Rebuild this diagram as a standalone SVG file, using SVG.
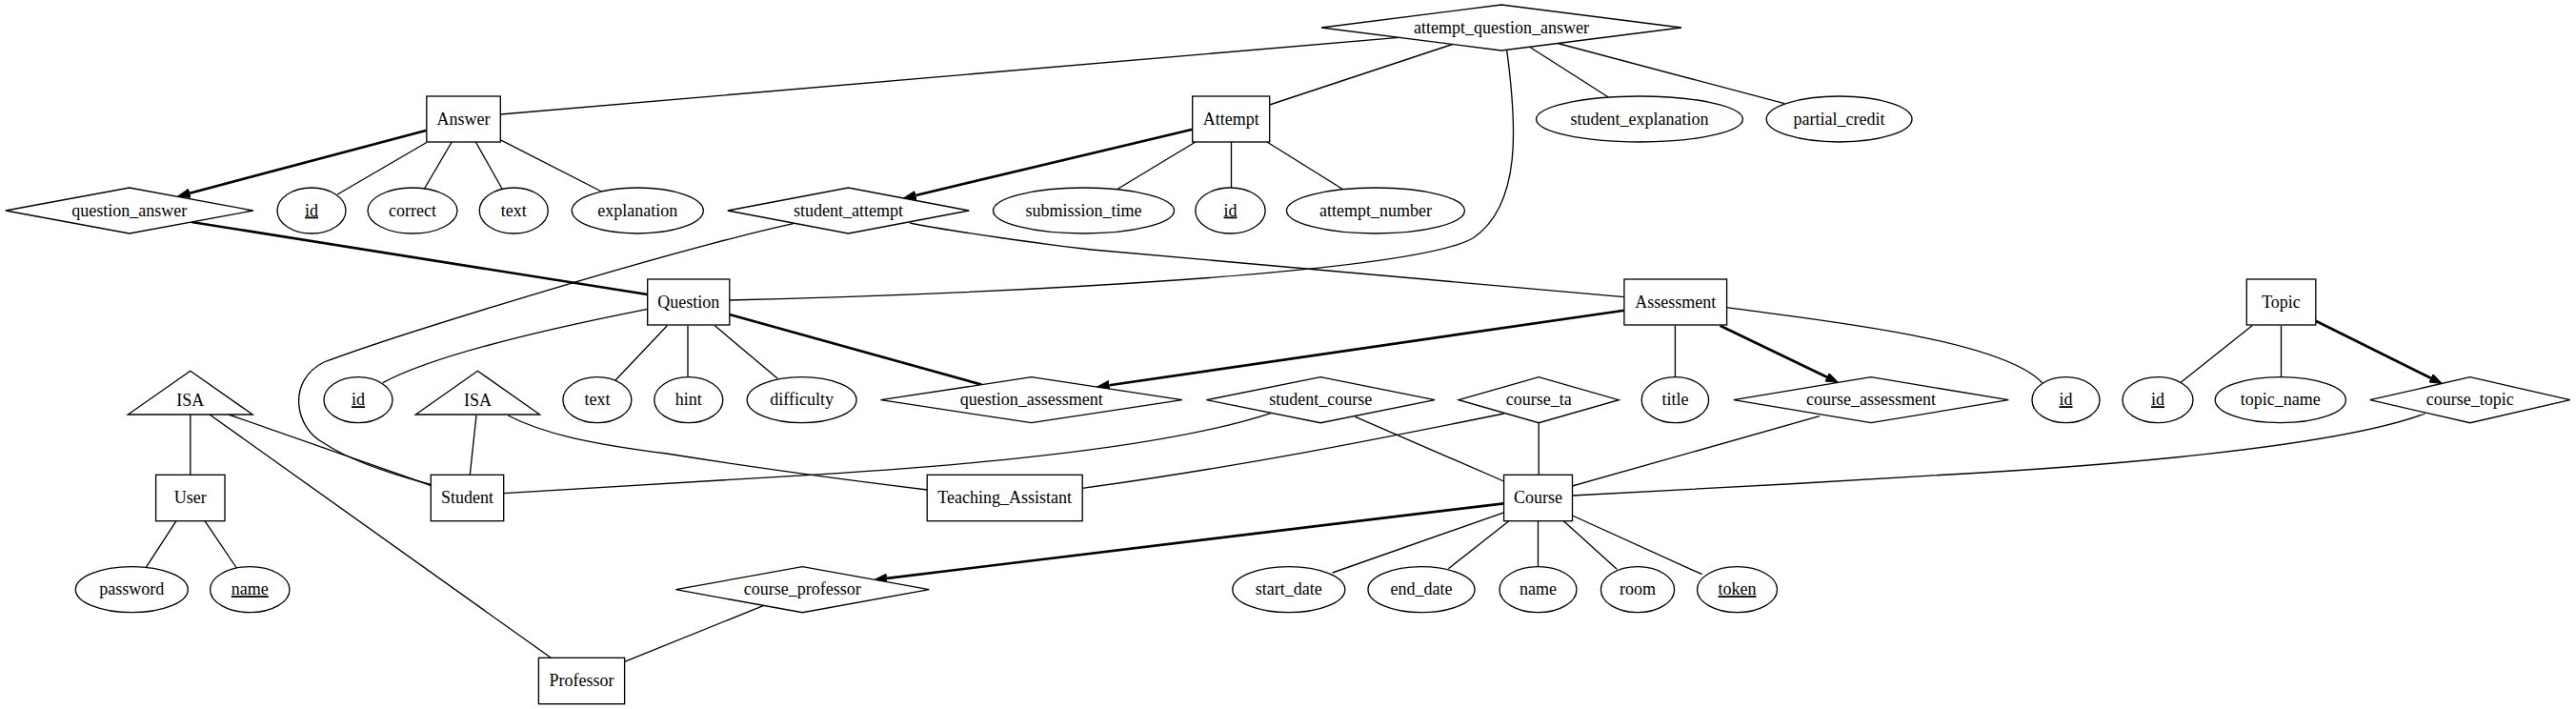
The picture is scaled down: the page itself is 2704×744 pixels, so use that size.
<svg xmlns="http://www.w3.org/2000/svg" width="2704" height="744" viewBox="0 0 2704 744">
<style>
.s{fill:#fff;stroke:#000;stroke-width:1.33}
.t{font-family:"Liberation Serif","Times New Roman",serif;font-size:18px;text-anchor:middle;fill:#000}
.u{text-decoration:underline}
.e{fill:none;stroke:#000;stroke-width:1.33}
.b{fill:none;stroke:#000;stroke-width:2.67}
.a{marker-end:url(#arr)}
</style>
<defs>
<marker id="arr" markerUnits="userSpaceOnUse" viewBox="0 0 14 10" refX="0" refY="5" markerWidth="14" markerHeight="10" orient="auto">
<path d="M0,0.3 L13,5 L0,9.7 Z" fill="#000" stroke="#000" stroke-width="1"/>
</marker>
</defs>
<rect width="2704" height="744" fill="#fff"/>
<g id="connectors">
<path class="e" d="M1468.5,39.3 L525.3,120"/>
<path class="e" d="M1524.6,46.5 L1332.6,110"/>
<path class="e" d="M1581.7,52.7 C1592,130 1598,215 1546,250 C1480,287 1050,308 765.8,315"/>
<path class="e" d="M1605.6,49.3 L1688,101.7"/>
<path class="e" d="M1635.2,45.5 L1873.2,108.7"/>
<path class="b a" d="M447.8,136.7 L199.2,202.7"/>
<path class="e" d="M447.8,149.5 L354.2,204"/>
<path class="e" d="M474.2,149 L445.5,198"/>
<path class="e" d="M499.4,149 L527,198"/>
<path class="e" d="M525,146.7 L631.5,201"/>
<path class="b" d="M201,233 L679.7,309"/>
<path class="b a" d="M1251.7,135.7 L961.3,205"/>
<path class="e" d="M1254.8,149 L1172,199"/>
<path class="e" d="M1292.5,149 L1292.5,197"/>
<path class="e" d="M1330,149 L1409.8,198.7"/>
<path class="e" d="M832.7,234.7 C700,264 420,350 340,380 C300,400 310,450 340,465 C370,485 420,500 452.3,508.5"/>
<path class="e" d="M955,234 C1000,243 1100,257 1146,262 L1704.9,311.7"/>
<path class="e" d="M679.7,324.3 C600,340 460,370 401.8,401.7"/>
<path class="e" d="M700.3,341.7 L645.8,399.3"/>
<path class="e" d="M722,341.7 L722,395.7"/>
<path class="e" d="M750.3,341.7 L816.3,397.3"/>
<path class="b" d="M765.7,330 L1030.4,403.6"/>
<path class="b a" d="M1704.9,325.7 L1164.4,404.2"/>
<path class="e" d="M1758.4,341.7 L1758.4,395.7"/>
<path class="b a" d="M1805.6,341.7 L1917.8,395.8"/>
<path class="e" d="M1812.6,322.7 C1900,335 2100,355 2143.6,401.7"/>
<path class="e" d="M2364,341.7 L2288.6,401.7"/>
<path class="e" d="M2394.5,341.7 L2394.5,395.7"/>
<path class="b a" d="M2430.8,336.7 L2551.6,396.7"/>
<path class="e" d="M2545.6,434 C2450,470 2200,490 2022,499.3 C1900,507 1750,515 1650.5,520"/>
<path class="e" d="M1909.8,436.7 L1650.5,510"/>
<path class="e" d="M1615.2,443.7 L1615.2,498.3"/>
<path class="e" d="M1578.8,434 C1450,460 1300,490 1136.2,512.3"/>
<path class="e" d="M1422.6,437.3 L1578.6,505"/>
<path class="e" d="M1334.6,433.3 C1230,468 1030,488 833.9,499.3 L528.7,517.7"/>
<path class="e" d="M199.8,435 L199.8,498.3"/>
<path class="e" d="M240,435 L452.3,509.5"/>
<path class="e" d="M220,435 L578.3,690.3"/>
<path class="e" d="M500,436 L493.3,498.3"/>
<path class="e" d="M533.3,436 C570,455 620,466 700,476 C800,492 900,505 973.2,514"/>
<path class="e" d="M185,546.7 L153.3,595.3"/>
<path class="e" d="M215,546.7 L248.3,596"/>
<path class="b a" d="M1578.6,528.3 L931,606.8"/>
<path class="e" d="M801.8,635.4 L655.6,694.3"/>
<path class="e" d="M1580,537.3 L1398.7,601"/>
<path class="e" d="M1583.9,546.7 L1520.4,596.7"/>
<path class="e" d="M1614.5,546.7 L1614.5,594.7"/>
<path class="e" d="M1641.3,546.7 L1697.2,597.3"/>
<path class="e" d="M1650.5,541 L1786.7,602.7"/>
</g>
<g id="attempt_question_answer"><polygon class="s" points="1387,29 1576,5 1765,29 1576,53"/><text class="t" x="1576" y="34.5">attempt_question_answer</text></g>
<g id="Answer"><rect class="s" x="447.8" y="101" width="77.5" height="48"/><text class="t" x="486.5" y="130.5">Answer</text></g>
<g id="Attempt"><rect class="s" x="1251.7" y="101" width="81" height="48"/><text class="t" x="1292.2" y="130.5">Attempt</text></g>
<g id="student_explanation"><ellipse class="s" cx="1721" cy="125" rx="108.4" ry="24"/><text class="t" x="1721" y="130.5">student_explanation</text></g>
<g id="partial_credit"><ellipse class="s" cx="1930.6" cy="125" rx="76.4" ry="24"/><text class="t" x="1930.6" y="130.5">partial_credit</text></g>
<g id="question_answer"><polygon class="s" points="5.8,221 135.8,197 265.8,221 135.8,245"/><text class="t" x="135.8" y="226.5">question_answer</text></g>
<g id="answer_id"><ellipse class="s" cx="327" cy="221" rx="36" ry="24"/><text class="t u" x="327" y="226.5">id</text></g>
<g id="answer_correct"><ellipse class="s" cx="433" cy="221" rx="47" ry="24"/><text class="t" x="433" y="226.5">correct</text></g>
<g id="answer_text"><ellipse class="s" cx="539.3" cy="221" rx="36" ry="24"/><text class="t" x="539.3" y="226.5">text</text></g>
<g id="answer_explanation"><ellipse class="s" cx="669.3" cy="221" rx="69" ry="24"/><text class="t" x="669.3" y="226.5">explanation</text></g>
<g id="student_attempt"><polygon class="s" points="763.8,221 890.5,197 1017.2,221 890.5,245"/><text class="t" x="890.5" y="226.5">student_attempt</text></g>
<g id="submission_time"><ellipse class="s" cx="1137.5" cy="221" rx="95" ry="24"/><text class="t" x="1137.5" y="226.5">submission_time</text></g>
<g id="attempt_id"><ellipse class="s" cx="1291.5" cy="221" rx="36.7" ry="24"/><text class="t u" x="1291.5" y="226.5">id</text></g>
<g id="attempt_number"><ellipse class="s" cx="1444" cy="221" rx="93.5" ry="24"/><text class="t" x="1444" y="226.5">attempt_number</text></g>
<g id="Question"><rect class="s" x="679.7" y="293" width="86.1" height="48"/><text class="t" x="722.7" y="322.5">Question</text></g>
<g id="Assessment"><rect class="s" x="1704.9" y="293" width="107.7" height="48"/><text class="t" x="1758.8" y="322.5">Assessment</text></g>
<g id="Topic"><rect class="s" x="2358.3" y="293" width="72.5" height="48"/><text class="t" x="2394.5" y="322.5">Topic</text></g>
<g id="isa_user"><polygon class="s" points="199.8,389.3 265.2,435 134.3,435"/><text class="t" x="199.8" y="425.5">ISA</text></g>
<g id="question_id"><ellipse class="s" cx="376" cy="419.7" rx="36" ry="24"/><text class="t u" x="376" y="425.2">id</text></g>
<g id="isa_student"><polygon class="s" points="501.4,389.3 566.6,435 436.3,435"/><text class="t" x="501.4" y="425.5">ISA</text></g>
<g id="question_text"><ellipse class="s" cx="626.9" cy="419.7" rx="36" ry="24"/><text class="t" x="626.9" y="425.2">text</text></g>
<g id="question_hint"><ellipse class="s" cx="722.8" cy="419.7" rx="36" ry="24"/><text class="t" x="722.8" y="425.2">hint</text></g>
<g id="question_difficulty"><ellipse class="s" cx="841.6" cy="419.7" rx="57.4" ry="24"/><text class="t" x="841.6" y="425.2">difficulty</text></g>
<g id="question_assessment"><polygon class="s" points="924.5,419.7 1082.7,395.7 1240.9,419.7 1082.7,443.7"/><text class="t" x="1082.7" y="425.2">question_assessment</text></g>
<g id="student_course"><polygon class="s" points="1266.3,419.7 1386.2,395.7 1506.1,419.7 1386.2,443.7"/><text class="t" x="1386.2" y="425.2">student_course</text></g>
<g id="course_ta"><polygon class="s" points="1531.2,419.7 1615.2,395.7 1699.2,419.7 1615.2,443.7"/><text class="t" x="1615.2" y="425.2">course_ta</text></g>
<g id="assessment_title"><ellipse class="s" cx="1758.4" cy="419.7" rx="35.2" ry="24"/><text class="t" x="1758.4" y="425.2">title</text></g>
<g id="course_assessment"><polygon class="s" points="1819.7,419.7 1964,395.7 2108.3,419.7 1964,443.7"/><text class="t" x="1964" y="425.2">course_assessment</text></g>
<g id="assessment_id"><ellipse class="s" cx="2168.5" cy="419.7" rx="35.5" ry="24"/><text class="t u" x="2168.5" y="425.2">id</text></g>
<g id="topic_id"><ellipse class="s" cx="2265" cy="419.7" rx="37" ry="24"/><text class="t u" x="2265" y="425.2">id</text></g>
<g id="topic_name"><ellipse class="s" cx="2393.8" cy="419.7" rx="68.6" ry="24"/><text class="t" x="2393.8" y="425.2">topic_name</text></g>
<g id="course_topic"><polygon class="s" points="2487.8,419.7 2592.8,395.7 2697.8,419.7 2592.8,443.7"/><text class="t" x="2592.8" y="425.2">course_topic</text></g>
<g id="User"><rect class="s" x="163.6" y="498.3" width="72.4" height="48.4"/><text class="t" x="199.8" y="528">User</text></g>
<g id="Student"><rect class="s" x="452.3" y="498.3" width="76.4" height="48.4"/><text class="t" x="490.5" y="528">Student</text></g>
<g id="Teaching_Assistant"><rect class="s" x="973.2" y="498.3" width="163" height="48.4"/><text class="t" x="1054.7" y="528">Teaching_Assistant</text></g>
<g id="Course"><rect class="s" x="1578.6" y="498.3" width="71.9" height="48.4"/><text class="t" x="1614.5" y="528">Course</text></g>
<g id="user_password"><ellipse class="s" cx="138.3" cy="618.7" rx="59" ry="24"/><text class="t" x="138.3" y="624.2">password</text></g>
<g id="user_name"><ellipse class="s" cx="262.3" cy="618.7" rx="41.7" ry="24"/><text class="t u" x="262.3" y="624.2">name</text></g>
<g id="course_professor"><polygon class="s" points="709.3,618.7 842.3,594.7 975.3,618.7 842.3,642.7"/><text class="t" x="842.3" y="624.2">course_professor</text></g>
<g id="course_start_date"><ellipse class="s" cx="1352.8" cy="618.7" rx="59" ry="24"/><text class="t" x="1352.8" y="624.2">start_date</text></g>
<g id="course_end_date"><ellipse class="s" cx="1492" cy="618.7" rx="56" ry="24"/><text class="t" x="1492" y="624.2">end_date</text></g>
<g id="course_name"><ellipse class="s" cx="1614.5" cy="618.7" rx="40.5" ry="24"/><text class="t" x="1614.5" y="624.2">name</text></g>
<g id="course_room"><ellipse class="s" cx="1719" cy="618.7" rx="38.6" ry="24"/><text class="t" x="1719" y="624.2">room</text></g>
<g id="course_token"><ellipse class="s" cx="1823.5" cy="618.7" rx="42" ry="24"/><text class="t u" x="1823.5" y="624.2">token</text></g>
<g id="Professor"><rect class="s" x="565.4" y="690.3" width="90.2" height="48.4"/><text class="t" x="610.5" y="720">Professor</text></g>
</svg>
